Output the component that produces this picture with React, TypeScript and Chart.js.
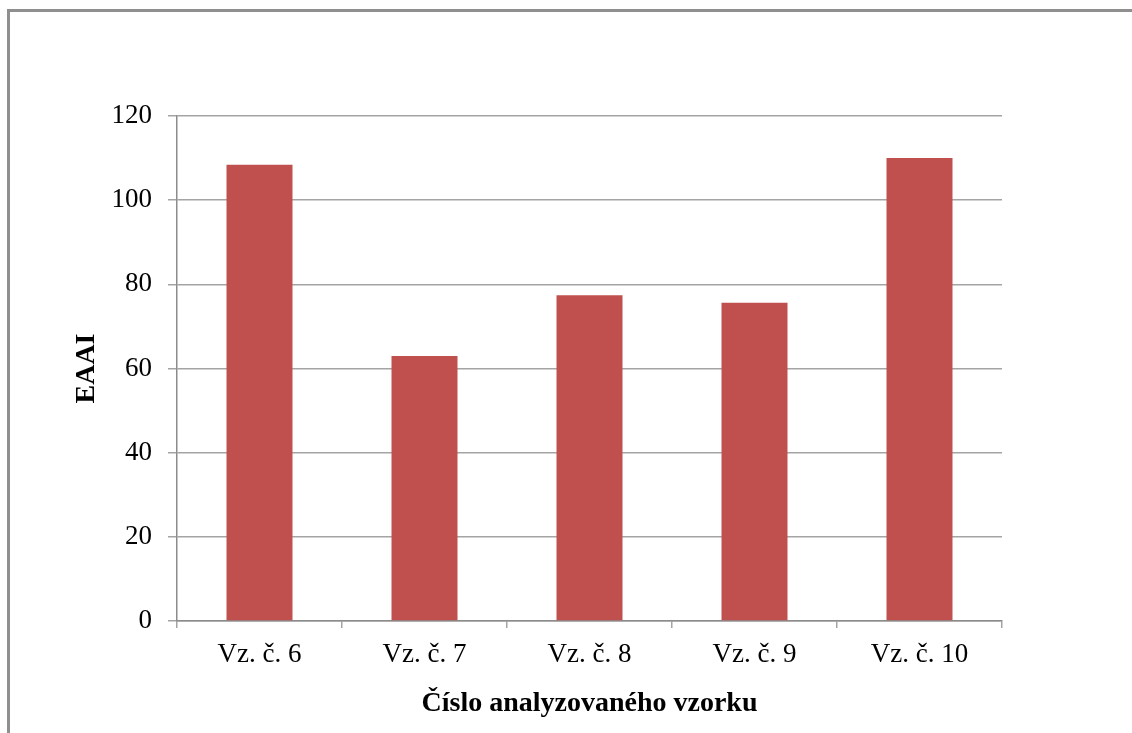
import React, { useEffect, useRef } from "react";
import { Chart, registerables } from "chart.js";

Chart.register(...registerables);

// Samples and their EAAI values
const categories: string[] = ["Vz. č. 6", "Vz. č. 7", "Vz. č. 8", "Vz. č. 9", "Vz. č. 10"];
const eaaiValues: number[] = [108.4, 63.0, 77.4, 75.6, 110.0];
const yTickValues: number[] = [0, 20, 40, 60, 80, 100, 120];

const xTitle = "Číslo analyzovaného vzorku";
const yTitle = "EAAI";

const W = 1132;
const H = 733;
const FONT = "'Liberation Serif', 'Times New Roman', serif";
const GRID = "#a4a4a4";
const AXIS = "#8c8c8c";

export default function App() {
  const canvasRef = useRef<HTMLCanvasElement | null>(null);

  useEffect(() => {
    const canvas = canvasRef.current;
    if (!canvas) return;
    const chart = new Chart(canvas, {
      type: "bar",
      data: {
        labels: categories,
        datasets: [
          {
            label: yTitle,
            data: eaaiValues,
            backgroundColor: "#c0504d",
            borderWidth: 0,
            categoryPercentage: 1,
            barPercentage: 0.4,
          },
        ],
      },
      options: {
        animation: false,
        responsive: false,
        devicePixelRatio: 1,
        layout: { padding: { top: 116, right: 130, left: 0, bottom: 0 } },
        plugins: {
          legend: { display: false },
          tooltip: { enabled: false },
        },
        scales: {
          x: {
            offset: true,
            grid: {
              offset: true,
              drawOnChartArea: false,
              drawTicks: true,
              tickLength: 7,
              color: GRID,
              lineWidth: 1.5,
            },
            border: { color: AXIS, width: 1.5 },
            ticks: {
              color: "#000",
              padding: 11,
              font: { family: FONT, size: 27 },
              maxRotation: 0,
            },
            title: {
              display: true,
              text: xTitle,
              color: "#000",
              font: { family: FONT, size: 28, weight: "bold" },
              padding: { top: 0, bottom: 12 },
            },
            afterFit: (scale: any) => {
              scale.height = 112;
            },
          },
          y: {
            min: 0,
            max: 120,
            afterBuildTicks: (scale: any) => {
              scale.ticks = yTickValues.map((v) => ({ value: v }));
            },
            grid: {
              color: GRID,
              lineWidth: 1.5,
              drawTicks: true,
              tickLength: 9,
            },
            border: { color: AXIS, width: 1.5 },
            ticks: {
              color: "#000",
              padding: 16,
              font: { family: FONT, size: 27 },
            },
            title: {
              display: true,
              text: yTitle,
              color: "#000",
              font: { family: FONT, size: 28, weight: "bold" },
              padding: { top: 70, bottom: 0 },
            },
            afterFit: (scale: any) => {
              scale.width = 177;
            },
          },
        },
      },
    });
    return () => chart.destroy();
  }, []);

  return (
    <div
      style={{
        position: "fixed",
        left: 0,
        top: 0,
        width: W,
        height: H,
        overflow: "hidden",
        background: "#ffffff",
      }}
    >
      <div
        style={{
          position: "absolute",
          left: 7,
          top: 9,
          width: W + 100,
          height: H + 100,
          border: "3px solid #8f8f8f",
          boxSizing: "border-box",
        }}
      />
      <canvas
        ref={canvasRef}
        width={W}
        height={H}
        style={{ position: "absolute", left: 0, top: 0, width: W, height: H }}
      />
    </div>
  );
}
